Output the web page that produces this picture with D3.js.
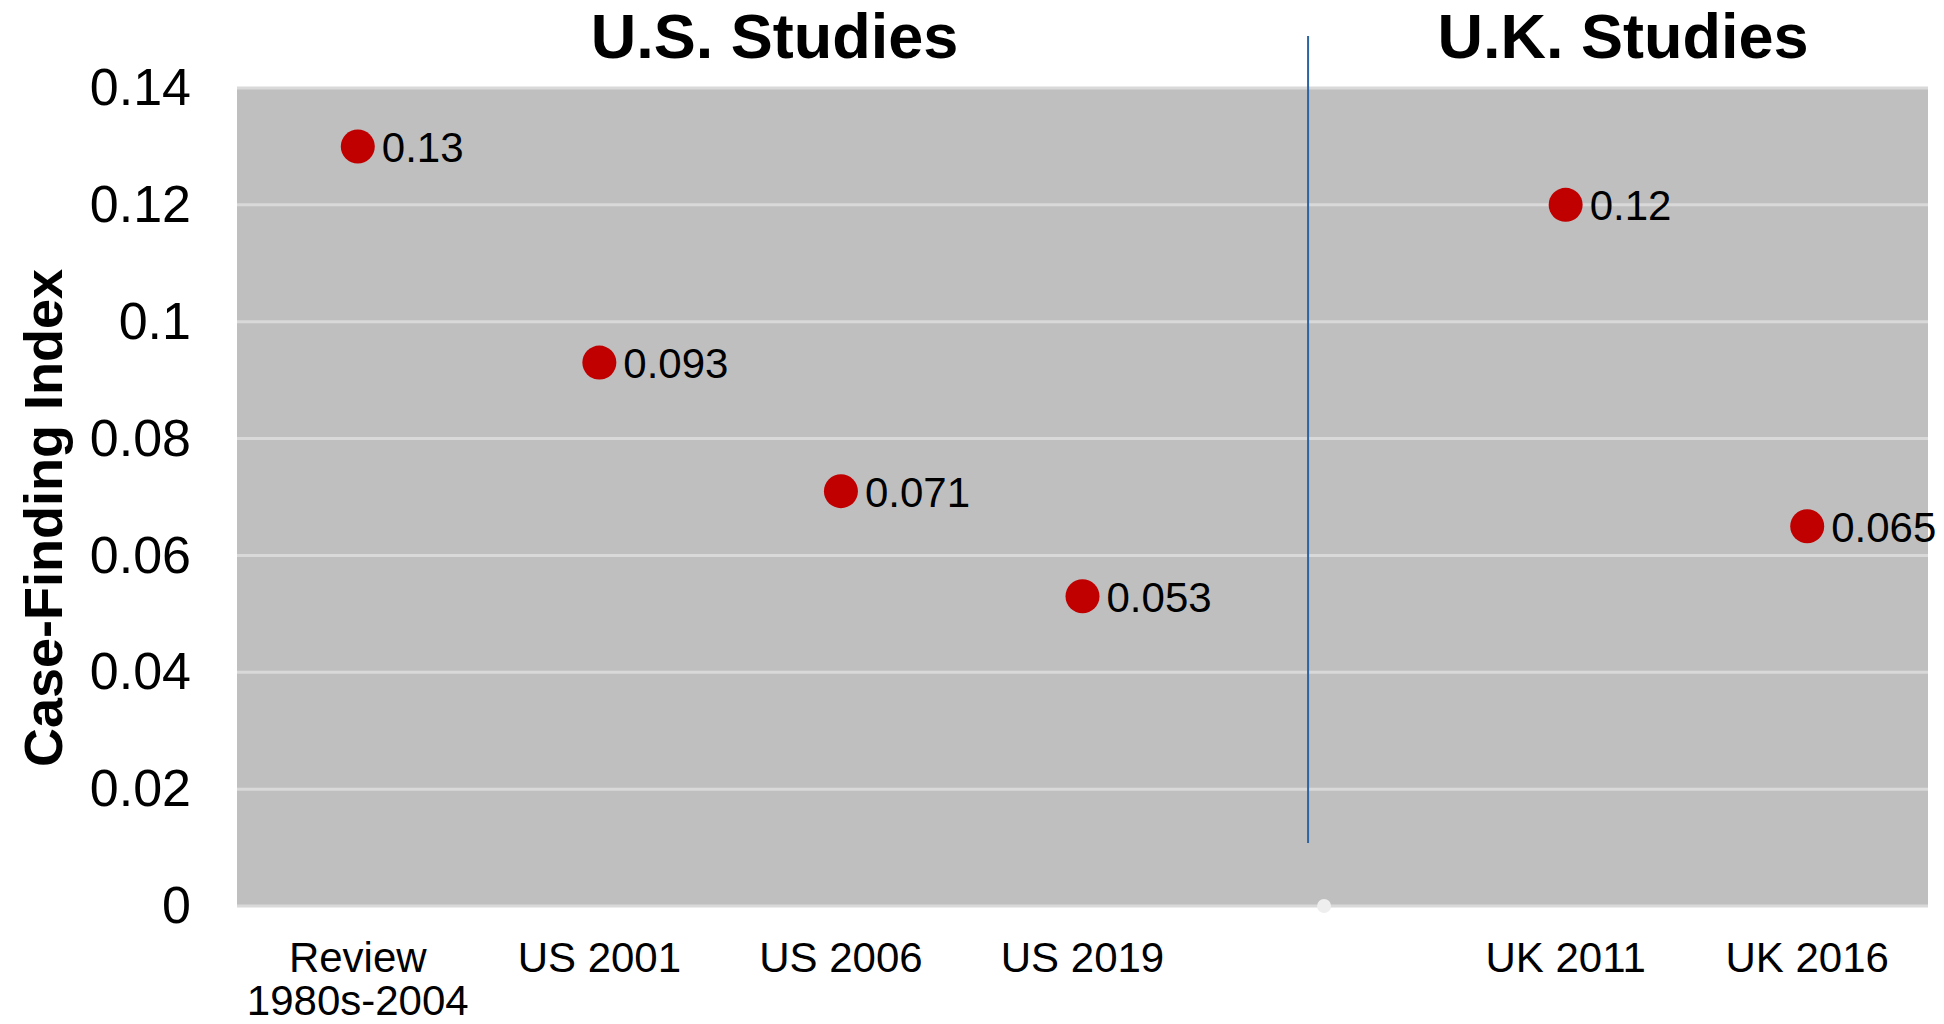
<!DOCTYPE html>
<html>
<head>
<meta charset="utf-8">
<script src="https://cdn.jsdelivr.net/npm/d3@7"></script>
<style>
  html, body { margin: 0; padding: 0; background: #fff; }
  svg { display: block; font-family: "Liberation Sans", Arial, sans-serif; }
</style>
</head>
<body>
<svg id="chart" width="1944" height="1024"></svg>
<script>
// Case-finding index by study; the empty slot separates the U.S. and U.K. groups
const categories = ["Review\n1980s-2004", "US 2001", "US 2006", "US 2019", "", "UK 2011", "UK 2016"];
const values     = [0.13, 0.093, 0.071, 0.053, 0, 0.12, 0.065];
const valueLabels = ["0.13", "0.093", "0.071", "0.053", "", "0.12", "0.065"];
const yTicks = [0, 0.02, 0.04, 0.06, 0.08, 0.1, 0.12, 0.14];
const groupTitles = ["U.S. Studies", "U.K. Studies"];

const svg = d3.select("#chart");
const margin = { left: 237, right: 16, top: 88, bottom: 118 };
const W = 1944, H = 1024;
const plotW = W - margin.left - margin.right;
const plotH = H - margin.top - margin.bottom;

const x = d3.scaleBand().domain(d3.range(categories.length)).range([0, plotW]);
const y = d3.scaleLinear().domain([0, 0.14]).range([plotH, 0]);

const g = svg.append("g").attr("transform", `translate(${margin.left},${margin.top})`);

// plot background
g.append("rect").attr("x", 0).attr("y", 0).attr("width", plotW).attr("height", plotH)
  .attr("fill", "#bfbfbf");

// horizontal gridlines (including the baseline)
g.selectAll("line.grid").data(yTicks).enter().append("line")
  .attr("class", "grid")
  .attr("x1", 0).attr("x2", plotW)
  .attr("y1", d => y(d)).attr("y2", d => y(d))
  .attr("stroke", "#d9d9d9").attr("stroke-width", 3);

// y axis tick labels
const yAxis = d3.axisLeft(y).tickValues(yTicks).tickSize(0).tickPadding(46)
  .tickFormat(d => d3.format("~g")(d));
const ya = g.append("g").call(yAxis);
ya.select(".domain").remove();
ya.selectAll("text").attr("font-size", 52).attr("fill", "#000")
  .attr("font-family", "'Liberation Sans', Arial, sans-serif");

// x axis category labels (may wrap onto two lines)
const xa = g.append("g").attr("transform", `translate(0,${plotH})`);
categories.forEach((c, i) => {
  const t = xa.append("text")
    .attr("x", x(i) + x.bandwidth() / 2)
    .attr("y", 66)
    .attr("text-anchor", "middle")
    .attr("font-size", 42)
    .attr("fill", "#000");
  c.split("\n").forEach((line, k) => {
    t.append("tspan").attr("x", x(i) + x.bandwidth() / 2)
      .attr("dy", k === 0 ? 0 : 43).text(line);
  });
});

// separator between the two study groups, just left of the empty slot's centre
const sepX = margin.left + x(4) + x.bandwidth() / 2 - 16;
svg.append("line")
  .attr("x1", sepX).attr("x2", sepX)
  .attr("y1", 36).attr("y2", 843)
  .attr("stroke", "#2e64a0").attr("stroke-width", 2);

// group titles, centred on each side of the separator
const titleX = [(margin.left + sepX) / 2 + 2, (sepX + margin.left + plotW) / 2 + 5];
groupTitles.forEach((t, i) => {
  svg.append("text")
    .attr("x", titleX[i]).attr("y", 58)
    .attr("text-anchor", "middle")
    .attr("font-size", 63).attr("font-weight", "bold")
    .attr("fill", "#000").text(t);
});

// points
g.selectAll("circle.pt").data(values).enter().append("circle")
  .attr("class", "pt")
  .attr("cx", (d, i) => x(i) + x.bandwidth() / 2)
  .attr("cy", d => y(d))
  .attr("r", (d, i) => categories[i] === "" ? 7 : 17)
  .attr("fill", (d, i) => categories[i] === "" ? "#eeeeee" : "#c00000");

// value labels
g.selectAll("text.val").data(values).enter().append("text")
  .attr("class", "val")
  .attr("x", (d, i) => x(i) + x.bandwidth() / 2 + 24)
  .attr("y", d => y(d))
  .attr("dy", "0.37em")
  .attr("font-size", 42)
  .attr("fill", "#000")
  .text((d, i) => valueLabels[i]);

// y axis title
svg.append("text")
  .attr("transform", `translate(62,${518}) rotate(-90)`)
  .attr("text-anchor", "middle")
  .attr("font-size", 54).attr("font-weight", "bold")
  .attr("fill", "#000").text("Case-Finding Index");
</script>
</body>
</html>
